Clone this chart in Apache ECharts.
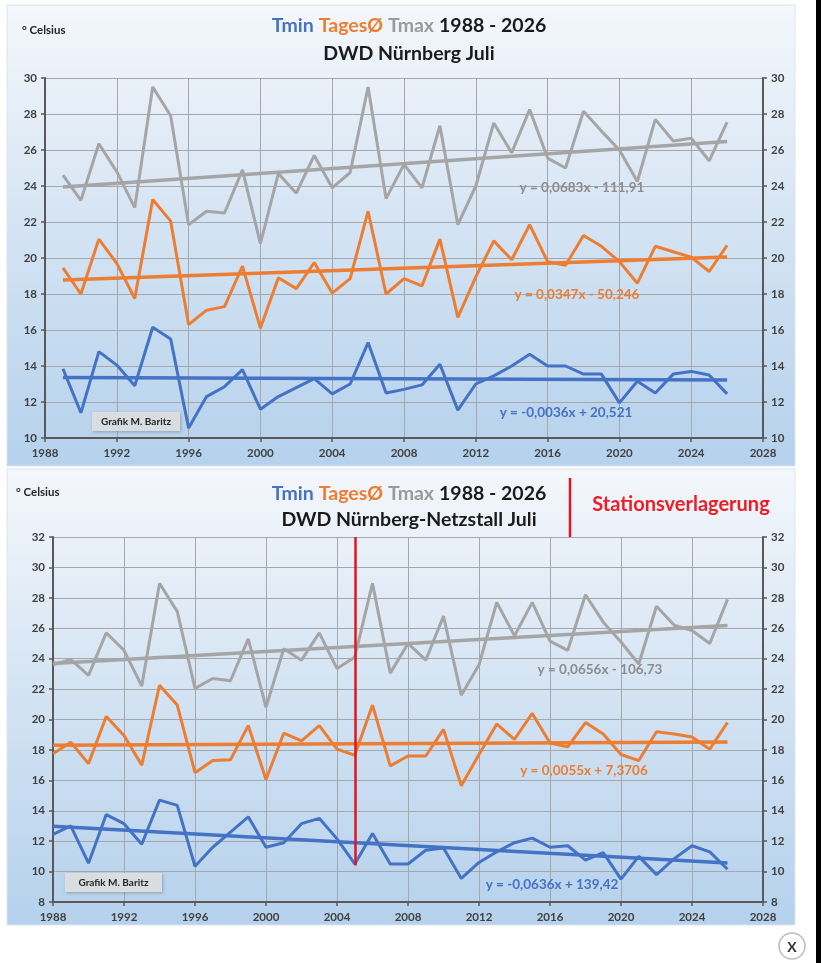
<!DOCTYPE html>
<html><head><meta charset="utf-8">
<script src="https://cdn.jsdelivr.net/npm/echarts@6/dist/echarts.min.js"></script>
<style>html,body{margin:0;padding:0;background:#fff;}#c{width:821px;height:963px;}</style>
</head><body><div id="c"></div>
<script>
// ---- data ----
const years1 = [1989,1990,1991,1992,1993,1994,1995,1996,1997,1998,1999,2000,2001,2002,2003,2004,2005,2006,2007,2008,2009,2010,2011,2012,2013,2014,2015,2016,2017,2018,2019,2020,2021,2022,2023,2024,2025,2026];
const tmax1 = [24.6,23.2,26.35,24.8,22.8,29.5,27.9,21.85,22.6,22.5,24.9,20.8,24.7,23.6,25.7,23.9,24.75,29.5,23.3,25.2,23.9,27.35,21.85,24.0,27.5,25.85,28.25,25.55,25.0,28.15,27.05,26.0,24.25,27.7,26.5,26.65,25.4,27.55];
const tmean1 = [19.45,18.0,21.05,19.7,17.75,23.25,22.05,16.3,17.1,17.3,19.55,16.1,18.9,18.3,19.75,18.05,18.85,22.6,18.0,18.85,18.45,21.05,16.7,18.95,20.95,19.9,21.85,19.8,19.6,21.25,20.65,19.8,18.6,20.65,20.35,20.05,19.25,20.7];
const tmin1 = [13.85,11.4,14.8,14.05,12.9,16.15,15.5,10.55,12.3,12.85,13.8,11.6,12.3,12.8,13.3,12.45,13.0,15.3,12.5,12.7,12.95,14.1,11.55,13.0,13.45,14.0,14.65,14.0,14.0,13.55,13.55,11.95,13.15,12.5,13.55,13.7,13.5,12.45];

const years2 = [1988,1989,1990,1991,1992,1993,1994,1995,1996,1997,1998,1999,2000,2001,2002,2003,2004,2005,2006,2007,2008,2009,2010,2011,2012,2013,2014,2015,2016,2017,2018,2019,2020,2021,2022,2023,2024,2025,2026];
const tmax2 = [23.6,23.95,22.9,25.7,24.55,22.2,28.95,27.1,22.05,22.7,22.55,25.3,20.8,24.65,23.9,25.7,23.35,24.1,28.95,23.05,25.0,23.9,26.8,21.6,23.6,27.7,25.5,27.7,25.15,24.55,28.2,26.4,25.1,23.65,27.45,26.2,25.85,25.0,27.9];
const tmean2 = [17.75,18.5,17.1,20.2,18.95,17.0,22.25,20.95,16.5,17.3,17.35,19.6,16.05,19.1,18.6,19.6,18.05,17.65,20.95,16.95,17.6,17.6,19.35,15.65,17.7,19.7,18.7,20.4,18.45,18.2,19.8,19.05,17.7,17.3,19.2,19.05,18.85,18.05,19.8];
const tmin2 = [12.45,13.0,10.55,13.75,13.15,11.8,14.7,14.35,10.35,11.6,12.6,13.6,11.6,11.9,13.15,13.5,12.15,10.5,12.5,10.5,10.5,11.4,11.55,9.55,10.6,11.3,11.9,12.2,11.6,11.7,10.75,11.25,9.5,11.0,9.8,10.85,11.7,11.3,10.15];

// trend equations shown in the chart: [slope, intercept]
const trend1 = { tmax: [0.0683, -111.91], tmean: [0.0347, -50.246], tmin: [-0.0036, 20.521] };
const trend2 = { tmax: [0.0656, -106.73], tmean: [0.0055, 7.3706], tmin: [-0.0636, 139.42] };
const eq1 = { tmax: 'y = 0,0683x - 111,91', tmean: 'y = 0,0347x - 50,246', tmin: 'y = -0,0036x + 20,521' };
const eq2 = { tmax: 'y = 0,0656x - 106,73', tmean: 'y = 0,0055x + 7,3706', tmin: 'y = -0,0636x + 139,42' };
const relocationYear = 2005;
const relocationLineEnd = [32, 10.4];

// ---- styles ----
const C = { tmin: '#4472C4', tmean: '#ED7D31', tmax: '#A5A5A5' };
const F = 'Lato, "Open Sans", sans-serif';

function pairs(xs, ys) { return xs.map((x, i) => [x, ys[i]]); }
function trendPts(xs, t) { const a = xs[0], b = xs[xs.length - 1]; return [[a, t[0]*a + t[1]], [b, t[0]*b + t[1]]]; }

function xAxis(gi) {
  return { type: 'value', gridIndex: gi, min: 1988, max: 2028, interval: 4,
    axisLine: { show: true, onZero: false, lineStyle: { color: '#595959', width: 2 } },
    axisTick: { show: true, length: 4, lineStyle: { color: '#595959', width: 1.5 } },
    axisLabel: { color: '#404040', fontFamily: F, fontWeight: 'bold', fontSize: 11.5, margin: 9, formatter: v => String(v) },
    splitLine: { show: true, lineStyle: { color: '#a4a8ad', width: 1 } } };
}
function yAxis(gi, mn, mx, pos) {
  return { type: 'value', gridIndex: gi, min: mn, max: mx, interval: 2, position: pos,
    axisLine: { show: true, lineStyle: { color: '#595959', width: 2 } },
    axisTick: { show: true, length: 4, lineStyle: { color: '#595959', width: 1.5 } },
    axisLabel: { color: '#404040', fontFamily: F, fontWeight: 'bold', fontSize: 11.5, margin: 8, formatter: v => String(v) },
    splitLine: { show: pos === 'left', lineStyle: { color: '#a4a8ad', width: 1 } } };
}
function lineS(gi, yi, data, color, w, z) {
  return { type: 'line', xAxisIndex: gi, yAxisIndex: yi, data: data, showSymbol: false, symbol: 'none',
    lineStyle: { color: color, width: w }, itemStyle: { color: color }, z: z, animation: false, silent: true };
}

const TS = 19.5;
const titleRich = {
  b: { color: C.tmin, fontSize: TS, fontWeight: 'bold', fontFamily: F },
  o: { color: C.tmean, fontSize: TS, fontWeight: 'bold', fontFamily: F },
  g: { color: '#9a9a9a', fontSize: TS, fontWeight: 'bold', fontFamily: F },
  k: { color: '#1a1a1a', fontSize: TS, fontWeight: 'bold', fontFamily: F }
};
const titleText = '{b|Tmin} {o|TagesØ} {g|Tmax} {k|1988 - 2026}';

function txt(x, y, s, color, size, align) {
  return { type: 'text', x: x, y: y, z: 50, style: { text: s, fill: color, font: 'bold ' + size + 'px ' + F, align: align || 'left', verticalAlign: 'middle' } };
}
function panel(y, h) {
  return { type: 'rect', shape: { x: 7, y: y, width: 788, height: h }, z: -100,
    style: { fill: new echarts.graphic.LinearGradient(0, 0, 0, 1, [
      { offset: 0, color: '#f4f7fb' }, { offset: 0.5, color: '#d3e3f3' }, { offset: 1, color: '#b5d1ec' }]),
      stroke: '#dde4ec', lineWidth: 1 } };
}
function badge(x, y, w, h) {
  return [{ type: 'rect', shape: { x: x, y: y, width: w, height: h }, z: 50, style: { fill: 'rgba(222,224,226,0.95)', shadowBlur: 3, shadowColor: 'rgba(0,0,0,0.25)', shadowOffsetX: 1, shadowOffsetY: 1 } },
          txt(x + w / 2, y + h / 2 + 0.5, 'Grafik M. Baritz', '#262626', 10, 'center')];
}

const option = {
  backgroundColor: '#ffffff',
  animation: false,
  title: [
    { text: titleText, left: 404, top: 11, textAlign: 'center', textStyle: { rich: titleRich } },
    { text: 'DWD Nürnberg Juli', left: 404, top: 39, textAlign: 'center', textStyle: { color: '#1a1a1a', fontSize: TS, fontWeight: 'bold', fontFamily: F } },
    { text: titleText, left: 404, top: 479, textAlign: 'center', textStyle: { rich: titleRich } },
    { text: 'DWD Nürnberg-Netzstall Juli', left: 404, top: 505, textAlign: 'center', textStyle: { color: '#1a1a1a', fontSize: TS, fontWeight: 'bold', fontFamily: F } }
  ],
  grid: [
    { left: 45, right: 58, top: 78, height: 360, containLabel: false },
    { left: 53, right: 58, top: 537, height: 365, containLabel: false }
  ],
  xAxis: [xAxis(0), xAxis(1)],
  yAxis: [yAxis(0, 10, 30, 'left'), yAxis(0, 10, 30, 'right'), yAxis(1, 8, 32, 'left'), yAxis(1, 8, 32, 'right')],
  series: [
    lineS(0, 0, pairs(years1, tmax1), C.tmax, 3, 3),
    lineS(0, 0, pairs(years1, tmean1), C.tmean, 3, 3),
    lineS(0, 0, pairs(years1, tmin1), C.tmin, 3, 3),
    lineS(0, 0, trendPts(years1, trend1.tmax), C.tmax, 3.5, 4),
    lineS(0, 0, trendPts(years1, trend1.tmean), C.tmean, 3.5, 4),
    lineS(0, 0, trendPts(years1, trend1.tmin), C.tmin, 3.5, 4),
    lineS(1, 2, pairs(years2, tmax2), C.tmax, 3, 3),
    lineS(1, 2, pairs(years2, tmean2), C.tmean, 3, 3),
    lineS(1, 2, pairs(years2, tmin2), C.tmin, 3, 3),
    lineS(1, 2, trendPts(years2, trend2.tmax), C.tmax, 3.5, 4),
    lineS(1, 2, trendPts(years2, trend2.tmean), C.tmean, 3.5, 4),
    Object.assign(lineS(1, 2, trendPts(years2, trend2.tmin), C.tmin, 3.5, 4), {
      markLine: { silent: true, symbol: 'none', animation: false, label: { show: false },
        lineStyle: { color: '#e3141c', width: 2.5, type: 'solid' },
        data: [[{ coord: [relocationYear, relocationLineEnd[0]] }, { coord: [relocationYear, relocationLineEnd[1]] }]] }
    })
  ],
  graphic: [
    panel(5, 461),
    panel(469, 456),
    { type: 'rect', shape: { x: 816, y: 0, width: 5, height: 963 }, z: 60, style: { fill: '#000000' } },
    txt(22, 30, '° Celsius', '#262626', 11.5),
    txt(16, 492, '° Celsius', '#262626', 11.5),
    txt(582, 188, eq1.tmax, '#8c8c8c', 13.5, 'center'),
    txt(577, 295, eq1.tmean, C.tmean, 13.5, 'center'),
    txt(566, 413, eq1.tmin, C.tmin, 13.5, 'center'),
    txt(600, 670, eq2.tmax, '#8c8c8c', 13.5, 'center'),
    txt(584, 771, eq2.tmean, C.tmean, 13.5, 'center'),
    txt(552, 885, eq2.tmin, C.tmin, 13.5, 'center'),
    ...badge(92, 412, 88, 19),
    ...badge(65, 873, 97, 19),
    { type: 'line', shape: { x1: 570, y1: 478, x2: 570, y2: 537 }, z: 50, style: { stroke: '#e3141c', lineWidth: 2.5 } },
    txt(681, 505, 'Stationsverlagerung', '#ee1c25', 20, 'center'),
    { type: 'circle', shape: { cx: 792, cy: 946, r: 13 }, z: 50, style: { fill: '#ffffff', stroke: '#bdbdbd', lineWidth: 1.5 } },
    txt(792, 947, 'X', '#333333', 14, 'center')
  ]
};
const chart = echarts.init(document.getElementById('c'), null, { renderer: 'canvas' });
chart.setOption(option);
</script></body></html>
